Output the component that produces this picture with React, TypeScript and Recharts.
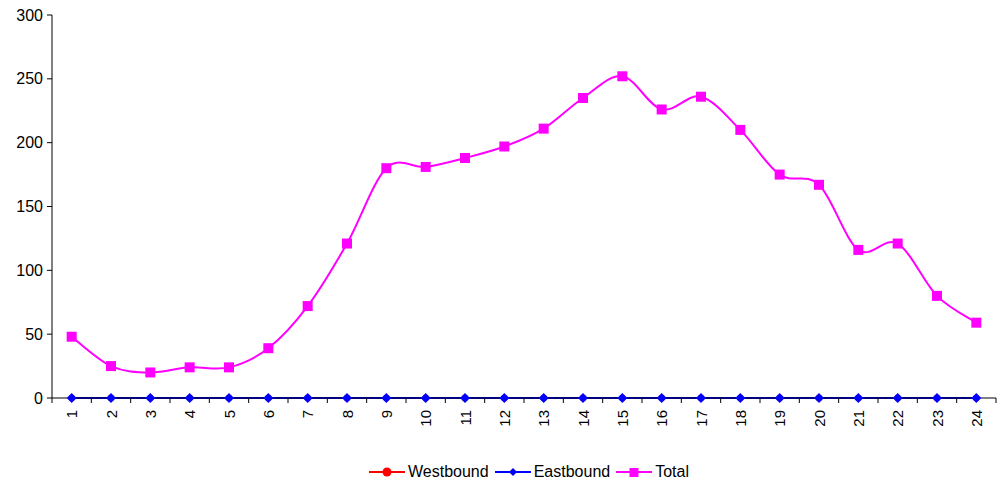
import React from 'react';
import { LineChart, Line, XAxis, YAxis, Legend } from 'recharts';

const hours = ['1', '2', '3', '4', '5', '6', '7', '8', '9', '10', '11', '12', '13', '14', '15', '16', '17', '18', '19', '20', '21', '22', '23', '24'];
const westbound = [0, 0, 0, 0, 0, 0, 0, 0, 0, 0, 0, 0, 0, 0, 0, 0, 0, 0, 0, 0, 0, 0, 0, 0];
const eastbound = [0, 0, 0, 0, 0, 0, 0, 0, 0, 0, 0, 0, 0, 0, 0, 0, 0, 0, 0, 0, 0, 0, 0, 0];
const total = [48, 25, 20, 24, 24, 39, 72, 121, 180, 181, 188, 197, 211, 235, 252, 226, 236, 210, 175, 167, 116, 121, 80, 59];
const yTicks = [0, 50, 100, 150, 200, 250, 300];

const data = hours.map((h, i) => ({
  hour: h,
  Westbound: westbound[i],
  Eastbound: eastbound[i],
  Total: total[i],
}));

const FONT = '"Liberation Sans", Arial, sans-serif';

// Excel-like smoothing (Catmull-Rom style bezier)
function excelCurve(context: any) {
  let pts: [number, number][] = [];
  return {
    areaStart() {},
    areaEnd() {},
    lineStart() { pts = []; },
    point(x: number, y: number) { pts.push([+x, +y]); },
    lineEnd() {
      if (!pts.length) return;
      context.moveTo(pts[0][0], pts[0][1]);
      for (let i = 0; i < pts.length - 1; i++) {
        const p0 = pts[i - 1] || pts[i];
        const p1 = pts[i];
        const p2 = pts[i + 1];
        const p3 = pts[i + 2] || p2;
        const c1x = p1[0] + (p2[0] - p0[0]) / 6;
        const c1y = p1[1] + (p2[1] - p0[1]) / 6;
        const c2x = p2[0] - (p3[0] - p1[0]) / 6;
        const c2y = p2[1] - (p3[1] - p1[1]) / 6;
        context.bezierCurveTo(c1x, c1y, c2x, c2y, p2[0], p2[1]);
      }
    },
  };
}

const Square = (props: any) => {
  const { cx, cy } = props;
  if (cx == null || cy == null) return null;
  return <rect x={cx - 5} y={cy - 5} width={10} height={10} fill="#FF00FF" />;
};
const Diamond = (props: any) => {
  const { cx, cy } = props;
  if (cx == null || cy == null) return null;
  return <path d={`M${cx},${cy - 5}L${cx + 5},${cy}L${cx},${cy + 5}L${cx - 5},${cy}Z`} fill="#0000FF" />;
};
const Circle = (props: any) => {
  const { cx, cy } = props;
  if (cx == null || cy == null) return null;
  return <circle cx={cx} cy={cy} r={3.3} fill="#FF0000" />;
};

// category label plus the tick marks that sit between categories
const XTick = (props: any) => {
  const { x, y, payload, index, visibleTicksCount } = props;
  const half = payload && payload.offset ? payload.offset : 944 / 24 / 2;
  const ty = y - 8;
  return (
    <g>
      <line x1={x - half} y1={ty} x2={x - half} y2={ty + 5} stroke="#000" />
      {index === visibleTicksCount - 1 && (
        <line x1={x + half} y1={ty} x2={x + half} y2={ty + 5} stroke="#000" />
      )}
      <text x={x} y={ty + 12} transform={`rotate(-90 ${x} ${ty + 12})`} textAnchor="end" dominantBaseline="central"
        style={{ fontSize: 15, fontFamily: FONT, fill: '#000' }}>
        {payload.value}
      </text>
    </g>
  );
};

const YTick = (props: any) => {
  const { x, y, payload } = props;
  return (
    <text x={x - 2} y={y} textAnchor="end" dominantBaseline="central"
      style={{ fontSize: 16, fontFamily: FONT, fill: '#000' }}>
      {payload.value}
    </text>
  );
};

const legendItems = [
  { name: 'Westbound', color: '#FF0000', kind: 'circle' },
  { name: 'Eastbound', color: '#0000FF', kind: 'diamond' },
  { name: 'Total', color: '#FF00FF', kind: 'square' },
];

const LegendContent = () => (
  <div style={{ display: 'flex', justifyContent: 'center', fontFamily: FONT, fontSize: 16, color: '#000', paddingLeft: 68, paddingTop: 19 }}>
    {legendItems.map((it) => (
      <div key={it.name} style={{ display: 'flex', alignItems: 'center', marginRight: 6 }}>
        <svg width={36} height={14} style={{ marginRight: 3 }}>
          <line x1={0} y1={7} x2={36} y2={7} stroke={it.color} strokeWidth={2} />
          {it.kind === 'circle' && <circle cx={18} cy={7} r={4.5} fill={it.color} />}
          {it.kind === 'diamond' && <path d="M18,3L22,7L18,11L14,7Z" fill={it.color} />}
          {it.kind === 'square' && <rect x={13.5} y={3} width={9} height={9} fill={it.color} />}
        </svg>
        <span>{it.name}</span>
      </div>
    ))}
  </div>
);

export default function App() {
  return (
    <div style={{ position: 'absolute', left: 0, top: 0, width: 999, height: 484, background: '#fff' }}>
      <LineChart width={999} height={484} data={data} margin={{ top: 15, right: 3, left: 0, bottom: 0 }}>
        <XAxis dataKey="hour" scale="band" interval={0} tick={<XTick />} tickLine={false}
          axisLine={{ stroke: '#000' }} height={46} />
        <YAxis domain={[0, 300]} ticks={yTicks} width={52} tickSize={5}
          axisLine={{ stroke: '#000' }} tickLine={{ stroke: '#000' }} tick={<YTick />} />
        <Legend verticalAlign="bottom" content={<LegendContent />} wrapperStyle={{ height: 40 }} />
        <Line dataKey="Westbound" stroke="#FF0000" strokeWidth={2} type={excelCurve as any}
          dot={<Circle />} activeDot={false} isAnimationActive={false} />
        <Line dataKey="Eastbound" stroke="#0000FF" strokeWidth={2} type={excelCurve as any}
          dot={<Diamond />} activeDot={false} isAnimationActive={false} />
        <Line dataKey="Total" stroke="#FF00FF" strokeWidth={2} type={excelCurve as any}
          dot={<Square />} activeDot={false} isAnimationActive={false} />
      </LineChart>
    </div>
  );
}
